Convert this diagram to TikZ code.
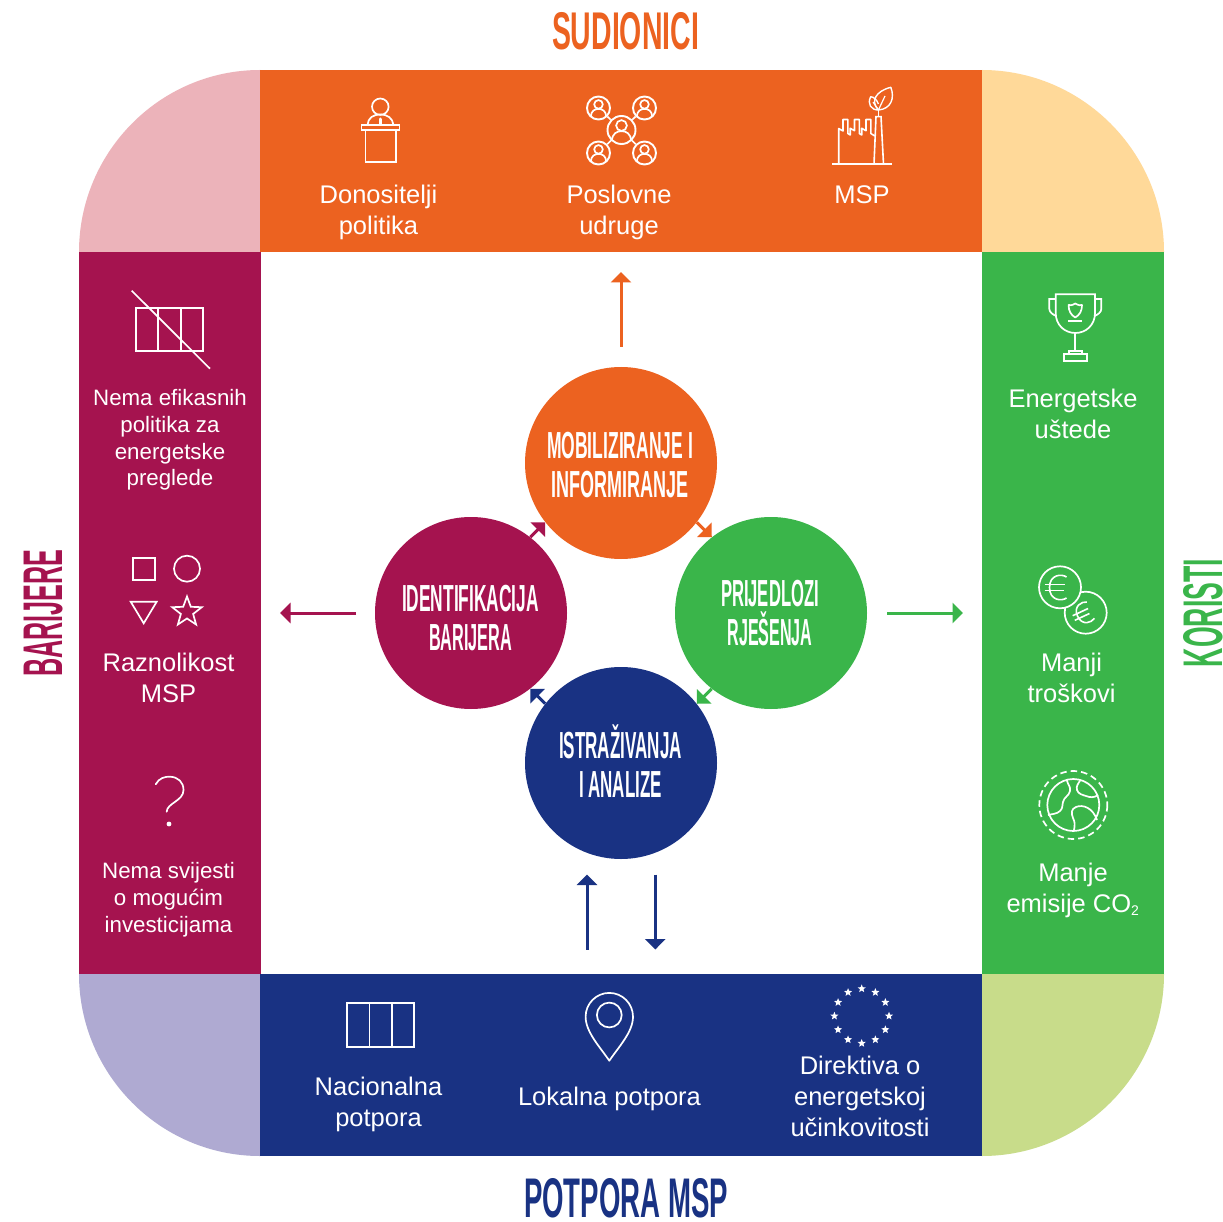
\documentclass[tikz,border=0pt]{standalone}
\usepackage{fontspec}
\usepackage{graphicx}
\usetikzlibrary{arrows.meta,shapes.geometric,calc}
\setmainfont{Liberation Sans}
\definecolor{cOrange}{HTML}{EC6220}
\definecolor{cMaroon}{HTML}{A5134F}
\definecolor{cGreen}{HTML}{3AB54A}
\definecolor{cNavy}{HTML}{193283}
\definecolor{cPink}{HTML}{ECB3BA}
\definecolor{cYellow}{HTML}{FFD999}
\definecolor{cLilac}{HTML}{AFAAD2}
\definecolor{cLime}{HTML}{C8DC8A}
% condensed headline: real text stretched to a width and a cap height
\newcommand{\hd}[3]{\resizebox{#1pt}{#2pt}{\fontsize{30}{30}\selectfont\bfseries\raisebox{0pt}[.716em][0pt]{#3}}}
\tikzset{
  x=1pt,y=-1pt,
  disc/.style={circle,fill=#1,minimum size=192pt,inner sep=0pt},
  big/.style={text=white,align=center,inner sep=0pt,font=\fontsize{25.5}{31}\selectfont},
  small/.style={text=white,align=center,inner sep=0pt,font=\fontsize{22.3}{26.8}\selectfont},
  inner/.style={text=white,align=center,inner sep=0pt,font=\fontsize{30}{39}\selectfont},
  title/.style={text=#1,inner sep=0pt},
  icon/.style={draw=white,line width=1.7pt,line join=miter},
  arrowline/.style={draw=#1,line width=3pt,-{Triangle[length=10.5pt,width=20pt]}},
  node ring/.style={circle,draw=white,line width=1.9pt,inner sep=0pt,minimum size=#1},
  eustar/.style={star,star points=5,star point ratio=2.3,fill=white,inner sep=0pt,minimum size=8.5pt},
}
\newcommand{\person}[3]{\begin{scope}[shift={(#1,#2)},scale=#3]
  \draw[icon] (0,-4) circle[radius=4.8];
  \draw[icon] (-8.6,9.6) .. controls (-8.2,3) and (-4,1) .. (0,1) .. controls (4,1) and (8.2,3) .. (8.6,9.6);
\end{scope}}
\newcommand{\eurosign}[4]{\begin{scope}[shift={(#1,#2)},rotate=#3,scale=#4]
  \draw[icon,line width=1.6pt] (8,-10.5) .. controls (3,-14) and (-9,-13) .. (-9,0) .. controls (-9,13) and (3,14) .. (8,10.5);
  \draw[icon,line width=1.6pt] (-14,-3) -- (6,-3) (-14,3) -- (5,3);
\end{scope}}
\begin{document}
\begin{tikzpicture}
\useasboundingbox (0,0) rectangle (1223,1222);
\fill[white] (0,0) rectangle (1223,1222);
% corners
\fill[cPink] (260,252) -- (79,252) .. controls (79,152) and (160,70) .. (260,70) -- cycle;
\fill[cYellow] (982,252) -- (1164,252) .. controls (1164,152) and (1082,70) .. (982,70) -- cycle;
\fill[cLilac] (260,974) -- (79,974) .. controls (79,1074) and (160,1156) .. (260,1156) -- cycle;
\fill[cLime] (982,974) -- (1164,974) .. controls (1164,1074) and (1082,1156) .. (982,1156) -- cycle;
% bands
\fill[cOrange] (260,70) rectangle (982,252);
\fill[cMaroon] (79,252) rectangle (260.5,974);
\fill[cGreen] (982,252) rectangle (1164,974);
\fill[cNavy] (260,974) rectangle (982,1156);
% titles
\node[title=cOrange] (tSud) at (625.5,31) {\hd{147}{38}{SUDIONICI}};
\node[title=cNavy] (tPot) at (626,1197) {\hd{204}{40}{POTPORA MSP}};
\node[title=cMaroon,rotate=90] (tBar) at (42,613) {\hd{127}{40}{BARIJERE}};
\node[title=cGreen,rotate=90] (tKor) at (1202,613) {\hd{108}{40}{KORISTI}};
% circles
\node[disc=cOrange] (cMob) at (621,463) {};
\node[disc=cGreen] (cPri) at (771,613) {};
\node[disc=cNavy] (cIst) at (621,763) {};
\node[disc=cMaroon] (cIde) at (471,613) {};
\node[inner] (lMob) at (620,464.5) {\hd{146}{27}{MOBILIZIRANJE I}\\\hd{137}{27}{INFORMIRANJE}};
\node[inner] (lPri) at (770,612.5) {\hd{98}{27}{PRIJEDLOZI}\\\hd{85}{27}{RJEŠENJA}};
\node[inner] (lIst) at (620.5,764.5) {\hd{123}{27}{ISTRAŽIVANJA}\\\hd{83}{27}{I ANALIZE}};
\node[inner] (lIde) at (470.5,617.5) {\hd{137}{27}{IDENTIFIKACIJA}\\\hd{83}{27}{BARIJERA}};
% circle-to-circle arrows
\draw[arrowline=cOrange] (cMob.-38) -- (cPri.128);
\draw[arrowline=cGreen] (cPri.-128) -- (cIst.38);
\draw[arrowline=cNavy] (cIst.142) -- (cIde.-52);
\draw[arrowline=cMaroon] (cIde.52) -- (cMob.218);
% outward arrows
\coordinate (aUpS) at (621,347); \coordinate (aUpE) at (621,272);
\coordinate (aLS) at (356,613); \coordinate (aLE) at (280,613);
\coordinate (aRS) at (887,613); \coordinate (aRE) at (963,613);
\coordinate (aNuS) at (587,949.5); \coordinate (aNuE) at (587,874.5);
\coordinate (aNdS) at (655.3,874.5); \coordinate (aNdE) at (655.3,949.5);
\draw[arrowline=cOrange] (aUpS) -- (aUpE);
\draw[arrowline=cMaroon] (aLS) -- (aLE);
\draw[arrowline=cGreen] (aRS) -- (aRE);
\draw[arrowline=cNavy] (aNuS) -- (aNuE);
\draw[arrowline=cNavy] (aNdS) -- (aNdE);
% top texts
\node[big] (tDon) at (378.5,212) {Donositelji\\politika};
\node[big] (tPos) at (619,212) {Poslovne\\udruge};
\node[big] (tMsp) at (862,195) {MSP};
% left texts
\node[small] (tNef) at (170,440) {Nema efikasnih\\politika za\\energetske\\preglede};
\node[big] (tRaz) at (168.5,678) {Raznolikost\\MSP};
\node[small] (tNsv) at (168.5,900) {Nema svijesti\\o mogućim\\investicijama};
% right texts
\node[big] (tEne) at (1073,414) {Energetske\\uštede};
\node[big] (tMan) at (1071.5,678) {Manji\\troškovi};
\node[big] (tEmi) at (1073,890) {Manje\\emisije CO\textsubscript{\fontsize{14}{14}\selectfont 2}};
% bottom texts
\node[big] (tNac) at (378.5,1104) {Nacionalna\\potpora};
\node[big] (tLok) at (609.5,1098.5) {Lokalna potpora};
\node[big] (tDir) at (860,1096) {Direktiva o\\energetskoj\\učinkovitosti};
% podium icon
\draw[icon] (380.3,106.7) ellipse[x radius=8.3,y radius=8.2];
\draw[icon] (367.5,125) .. controls (368,118) and (373,114.5) .. (380.3,114.5) .. controls (387.6,114.5) and (392.5,118) .. (393.5,125);
\draw[white,line width=3pt,line cap=round] (380.3,119) -- (380.3,124);
\draw[icon] (361.5,125) rectangle (399.5,130);
\draw[icon] (365.5,130) -- (365.5,162) -- (396,162) -- (396,130);
% network icon
\node[node ring=28pt] (nC) at (621.5,130) {};
\node[node ring=23pt] (nA) at (598.5,108) {};
\node[node ring=23pt] (nB) at (644.5,108) {};
\node[node ring=23pt] (nD) at (598.5,153) {};
\node[node ring=23pt] (nE) at (644.5,153) {};
\foreach \n in {nA,nB,nD,nE} \draw[icon] (nC) -- (\n);
\person{621.5}{130}{1.12}
\person{598.5}{108}{.9}
\person{644.5}{108}{.9}
\person{598.5}{153}{.9}
\person{644.5}{153}{.9}
% factory icon
\draw[icon,line width=1.6pt] (832,164) -- (892,164);
\draw[icon,line width=1.6pt,line join=round] (838.7,164) -- (838.7,128.5) -- (843,131) -- (843,119.5) -- (847.8,119.5) -- (847.8,133.5) -- (850.2,135) -- (850.2,128.3) -- (854.5,130.7) -- (854.5,119.5) -- (859.3,119.5) -- (859.3,133.5) -- (861.7,135) -- (861.7,128.3) -- (866,130.7) -- (866,119.5) -- (870.8,119.5) -- (870.8,133.5) -- (874.8,136);
\draw[icon,line width=1.6pt] (874,164) -- (876,116.7) -- (881,116.7) -- (883.5,164);
\draw[icon,line width=1.6pt] (878.4,116.7) -- (878.4,110);
\draw[icon,line width=1.4pt,line join=round] (878.4,110) .. controls (870,101) and (876,91) .. (890.8,87.3) .. controls (895,98) and (891,109) .. (878.4,110);
\draw[icon,line width=1.2pt] (878.4,110) -- (885,96);
\draw[icon,line width=1.4pt,line join=round] (878.4,110) .. controls (871,110) and (867,104) .. (870.7,96.7) .. controls (874,97) and (877,100) .. (878.4,104);
\draw[icon,line width=1.2pt] (878.4,110) -- (873,102);
% left: crossed table
\draw[icon] (135.7,307.7) rectangle (203.3,351.3);
\draw[icon] (158.3,307.7) -- (158.3,351.3) (180.7,307.7) -- (180.7,351.3);
\draw[icon] (131.7,290.7) -- (210,368.7);
% left: shapes
\draw[icon] (132.9,558) rectangle (155,580);
\draw[icon] (187,568.7) circle[radius=13];
\draw[icon] (130.7,601.7) -- (156.7,601.7) -- (143.7,623.3) -- cycle;
\node[star,star points=5,star point ratio=2.4,draw=white,line width=1.7pt,inner sep=0pt,minimum size=31pt] (sStar) at (187,612) {};
% left: question mark
\draw[white,line width=1.7pt,line cap=round] (155.7,784.3) .. controls (159,778) and (165,776.5) .. (170,776.7) .. controls (178,777) and (183.5,782) .. (183.5,790) .. controls (183.5,801) and (167,803) .. (166.7,811.7);
\fill[white] (169,824) circle[radius=2.4];
% right: trophy
\draw[icon] (1055.7,294.3) -- (1095,294.3) -- (1095,313) .. controls (1095,325) and (1086,333) .. (1075.3,333) .. controls (1064.7,333) and (1055.7,325) .. (1055.7,313) -- cycle;
\draw[icon] (1055.7,299) -- (1049.3,299) -- (1049.3,309) .. controls (1049.3,312) and (1053,315) .. (1056.5,316);
\draw[icon] (1095,299) -- (1101.3,299) -- (1101.3,309) .. controls (1101.3,312) and (1097.7,315) .. (1094.2,316);
\draw[icon] (1075.3,333) -- (1075.3,350.7);
\draw[icon] (1069.3,350.7) rectangle (1081.7,354);
\draw[icon] (1063.7,354) rectangle (1087,361.3);
\draw[icon,line join=round] (1075.3,303.5) .. controls (1072,305.5) and (1070,305.5) .. (1068.6,305) .. controls (1068.5,311) and (1071,315) .. (1075.3,317.5) .. controls (1079.6,315) and (1082,311) .. (1082,305) .. controls (1080.6,305.5) and (1078.6,305.5) .. (1075.3,303.5) -- cycle;
\draw[icon] (1068.3,321) -- (1082.3,321);
% right: coins
\draw[icon] (1085.7,612.7) circle[radius=21];
\eurosign{1084.5}{613}{25}{.85}
\draw[icon,fill=cGreen] (1060,587.3) circle[radius=21];
\eurosign{1058.5}{587.5}{0}{1}
% right: globe
\draw[icon,dash pattern=on 6.5pt off 4pt] (1073.3,805) circle[radius=34];
\draw[icon] (1073.3,805) circle[radius=26];
\draw[icon,line join=round] (1066.7,780) .. controls (1068,785) and (1071,787) .. (1070,791) .. controls (1069,796) and (1064,797) .. (1063,802) .. controls (1062,806) and (1063,808) .. (1060,811) .. controls (1057,814) and (1052,814) .. (1048,815);
\draw[icon,line join=round] (1080,780.7) .. controls (1078,784) and (1076,786) .. (1077,790) .. controls (1078,794) and (1083,795) .. (1086,796) .. controls (1090,797.5) and (1094,798) .. (1098,795);
\draw[icon,line join=round] (1074,830) .. controls (1075,825) and (1075,822) .. (1073,818) .. controls (1071,813) and (1071,809) .. (1076,807) .. controls (1083,804) and (1093,808) .. (1097,820);
% bottom: table
\draw[icon] (347,1003) rectangle (414,1047);
\draw[icon] (369.5,1003) -- (369.5,1047) (392,1003) -- (392,1047);
% bottom: pin
\draw[icon,line width=1.7pt,line join=round] (609.3,1060.7) .. controls (600,1047) and (585.6,1032) .. (585.6,1016.7) .. controls (585.6,1003.6) and (596.2,992.9) .. (609.3,992.9) .. controls (622.4,992.9) and (633,1003.6) .. (633,1016.7) .. controls (633,1032) and (618.6,1047) .. (609.3,1060.7) -- cycle;
\draw[icon,line width=1.7pt] (609.3,1015) circle[radius=12.4];
% bottom: EU stars
\foreach \a in {0,30,...,330} \node[eustar] (eu\a) at ($(861.7,1016)+(\a:27.3)$) {};
\end{tikzpicture}
\end{document}
